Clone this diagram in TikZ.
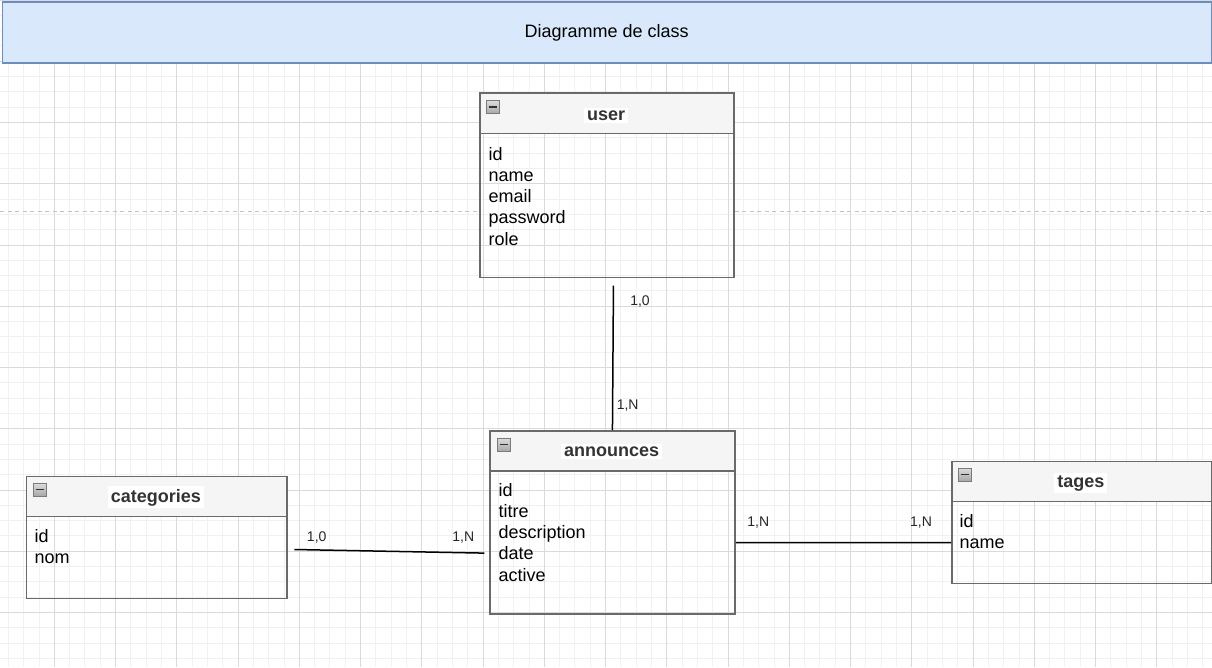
\documentclass[tikz,border=0pt]{standalone}
\usepackage{fontspec}
\setmainfont{Liberation Sans}
\definecolor{gridminor}{HTML}{F1F1F1}
\definecolor{gridmajor}{HTML}{DADADA}
\definecolor{hdrfill}{HTML}{DAE8FC}
\definecolor{hdrdraw}{HTML}{6C8EBF}
\definecolor{boxdraw}{HTML}{6A6A6A}
\definecolor{boxhead}{HTML}{F5F5F5}
\definecolor{titletxt}{HTML}{333333}
\definecolor{dashcol}{HTML}{C4C4C4}
\definecolor{icontop}{HTML}{DCDCDC}
\definecolor{iconbot}{HTML}{A8A8A8}
\definecolor{icondraw}{HTML}{7A7A7A}
\begin{document}
\begin{tikzpicture}[x=1pt,y=-1pt,
  minorline/.style={gridminor,line width=0.9pt},
  majorline/.style={gridmajor,line width=0.9pt},
  classbody/.style={draw=boxdraw,line width=1.6pt,anchor=north west,inner sep=0pt},
  classhead/.style={draw=boxdraw,fill=boxhead,line width=1.6pt,anchor=north west,inner sep=0pt},
  classtitle/.style={anchor=base,fill=white,inner xsep=3pt,inner ysep=2.5pt,text=titletxt,
    font=\fontsize{18}{21.25}\selectfont\bfseries},
  attr/.style={anchor=base west,inner sep=0pt,text=black,font=\fontsize{18}{21.25}\selectfont},
  card/.style={inner sep=0pt,text=black!85,font=\fontsize{14}{16}\selectfont},
  conn/.style={black,line width=1.5pt},
  minusicon/.style={draw=icondraw,top color=icontop,bottom color=iconbot,line width=1pt,minimum size=13pt,inner sep=0pt,anchor=north west},
  minusbar/.style={black!80,line width=1.8pt},
  sep/.style={dashcol,line width=1pt,dash pattern=on 4pt off 3.5pt}
]
\useasboundingbox (0,0) rectangle (1212,667);
% grid
\begin{scope}
\clip (0,0) rectangle (1212,667);
\foreach \i in {0,...,80} \draw[minorline] ({-6.95+\i*15.3125},0) -- ++(0,667);
\foreach \j in {0,...,44} \draw[minorline] (0,{\j*15.3125}) -- ++(1212,0);
\foreach \i in {0,...,20} \draw[majorline] ({-6.95+\i*61.25},0) -- ++(0,667);
\foreach \j in {0,...,11} \draw[majorline] (0,{\j*61.25}) -- ++(1212,0);
\end{scope}
% header bar
\node[draw=hdrdraw,fill=hdrfill,line width=1.3pt,minimum width=1209pt,minimum height=61pt,
  anchor=north west,inner sep=0pt,font=\fontsize{18}{21.25}\selectfont] (title) at (1.5,1.2) {Diagramme de class};

% user
\node[classbody,minimum width=254.3pt,minimum height=184.4pt] (user) at (479,92.3) {};
\node[classhead,minimum width=254.3pt,minimum height=40.4pt] (user-h) at (479,92.3) {};
% dashed separator (interrupted by the user box)
\coordinate (sepL) at (0,211.7);
\coordinate (sepR) at (1212,211.7);
\draw[sep] (sepL) -- (sepL -| user.west);
\draw[sep] (sepL -| user.east) -- (sepR);
\node[minusicon] (user-i) at (485.5,100) {};
\draw[minusbar] ([xshift=3pt]user-i.west) -- ([xshift=-3pt]user-i.east);
\node[classtitle] (user-t) at (606.2,120) {user};
\foreach \t [count=\k] in {id,name,email,password,role}
  \node[attr] (user-a\k) at (488.3,{160+(\k-1)*21.25}) {\t};

% announces
\node[classbody,minimum width=245.3pt,minimum height=183pt] (ann) at (489,430) {};
\node[classhead,minimum width=245.3pt,minimum height=40pt] (ann-h) at (489,430) {};
\node[minusicon] (ann-i) at (496.5,437.5) {};
\draw[minusbar] ([xshift=3pt]ann-i.west) -- ([xshift=-3pt]ann-i.east);
\node[classtitle] (ann-t) at (611.6,456.5) {announces};
\foreach \t [count=\k] in {id,titre,description,date,active}
  \node[attr] (ann-a\k) at (498.3,{496+(\k-1)*21.25}) {\t};

% categories
\node[classbody,minimum width=260.3pt,minimum height=122pt] (cat) at (25.7,475.7) {};
\node[classhead,minimum width=260.3pt,minimum height=40pt] (cat-h) at (25.7,475.7) {};
\node[minusicon] (cat-i) at (32.5,482.5) {};
\draw[minusbar] ([xshift=3pt]cat-i.west) -- ([xshift=-3pt]cat-i.east);
\node[classtitle] (cat-t) at (155.8,502) {categories};
\foreach \t [count=\k] in {id,nom}
  \node[attr] (cat-a\k) at (34.5,{542.7+(\k-1)*21.25}) {\t};

% tages
\node[classbody,minimum width=259.5pt,minimum height=122pt] (tag) at (951,460.7) {};
\node[classhead,minimum width=259.5pt,minimum height=40pt] (tag-h) at (951,460.7) {};
\node[minusicon] (tag-i) at (957.5,467.5) {};
\draw[minusbar] ([xshift=3pt]tag-i.west) -- ([xshift=-3pt]tag-i.east);
\node[classtitle] (tag-t) at (1080.8,487) {tages};
\foreach \t [count=\k] in {id,name}
  \node[attr] (tag-a\k) at (959.5,{527+(\k-1)*21.25}) {\t};

% connectors
\draw[conn] ([xshift=6.5pt,yshift=-7.3pt]user.south) -- ([xshift=0pt]ann.north);
\draw[conn] ([xshift=6.7pt,yshift=-12pt]cat.east) -- ([xshift=-4.7pt,yshift=-30.8pt]ann.west);
\draw[conn] ([yshift=-20.2pt]ann.east) -- ([yshift=-20.2pt]tag.west);

% cardinalities
\node[card] (c1) at (640,301.7) {1,0};
\node[card] (c2) at (627.7,406) {1,N};
\node[card] (c3) at (316.7,537.7) {1,0};
\node[card] (c4) at (463.3,537.7) {1,N};
\node[card] (c5) at (758.3,522.7) {1,N};
\node[card] (c6) at (921,522.7) {1,N};
\end{tikzpicture}
\end{document}
